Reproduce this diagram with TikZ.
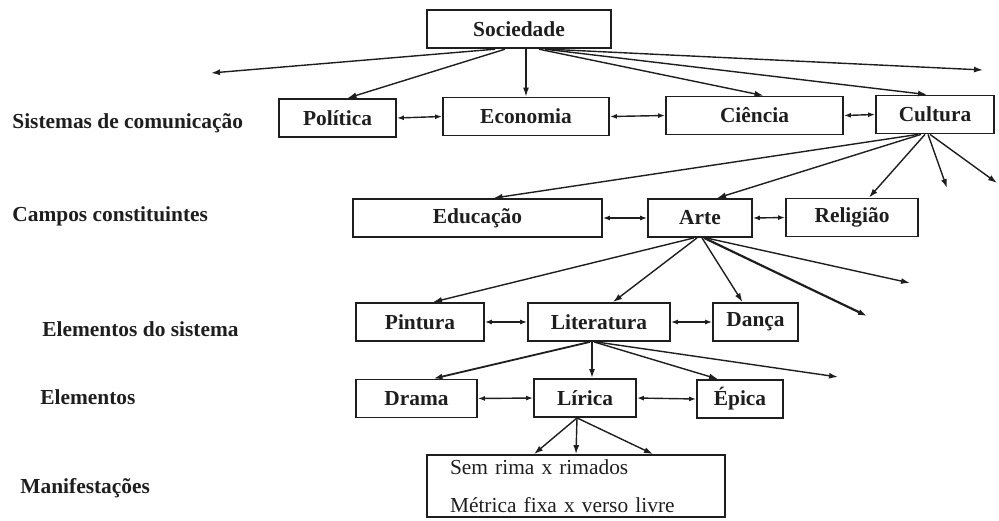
\documentclass[tikz,border=0pt]{standalone}
\usepackage{fontspec}
\setmainfont{Liberation Serif}
\usepackage{xcolor}
\usepackage{tikz}
\usetikzlibrary{arrows.meta,positioning}
\definecolor{inkdark}{HTML}{1E1E1E}

\begin{document}
\begin{tikzpicture}[
    x=0.5pt, y=-0.5pt,
    cbox/.style={rectangle, draw=inkdark, line width=0.9pt, text=inkdark, font=\fontsize{10.7}{12}\selectfont\bfseries, minimum height=19pt, inner sep=2pt},
    rowlabel/.style={anchor=base west, text=inkdark, font=\fontsize{10.7}{12}\selectfont\bfseries, inner sep=0pt},
    arr/.style={-{Latex[length=4.5pt,width=3pt]}, draw=inkdark, line width=0.7pt},
    dbl/.style={{Latex[length=3.5pt,width=2.5pt]}-{Latex[length=3.5pt,width=2.5pt]}, draw=inkdark, line width=0.7pt}
]
\useasboundingbox (0,0) rectangle (999,520);

\node[rowlabel] (l1) at (12,128) {Sistemas de comunicação};
\node[rowlabel] (l2) at (12,221) {Campos constituintes};
\node[rowlabel] (l3) at (42,336) {Elementos do sistema};
\node[rowlabel] (l4) at (40,404) {Elementos};
\node[rowlabel] (l5) at (20,493) {Manifestações};

\node[cbox, line width=1.2pt, minimum width=92pt] (Sociedade) at (519,29) {Sociedade};
\node[cbox, minimum width=58.5pt] (Politica) at (337.5,118) {Política};
\node[cbox, minimum width=83pt] (Economia) at (526,116.5) {Economia};
\node[cbox, minimum width=88.5pt] (Ciencia) at (754.5,115.5) {Ciência};
\node[cbox, minimum width=59pt] (Cultura) at (935,114.5) {Cultura};
\node[cbox, minimum width=124.5pt] (Educacao) at (477.5,218) {Educação};
\node[cbox, minimum width=52pt] (Arte) at (700,218) {Arte};
\node[cbox, minimum width=66pt] (Religiao) at (852,217.5) {Religião};
\node[cbox, minimum width=64pt] (Pintura) at (420,322) {Pintura};
\node[cbox, minimum width=71pt] (Literatura) at (599,322) {Literatura};
\node[cbox, minimum width=42.5pt] (Danca) at (755.5,322) {Dança};
\node[cbox, minimum width=60.5pt] (Drama) at (416.5,398.5) {Drama};
\node[cbox, minimum width=51pt] (Lirica) at (585,398) {Lírica};
\node[cbox, minimum width=43pt] (Epica) at (740,399) {Épica};
\node[cbox, font=\fontsize{10.7}{13}\selectfont, text width=126pt, inner xsep=11.5pt, align=left, minimum height=31pt] (Manif) at (576,486) {Sem rima x rimados\\[6pt]Métrica fixa x verso livre};

\coordinate (socL) at (211,73);
\coordinate (socR) at (983,70);
\coordinate (culA) at (947,188);
\coordinate (culB) at (997,183);
\coordinate (artA) at (910,283);
\coordinate (artB) at (867,316);
\coordinate (litA) at (838,377);

\draw[arr] ([xshift=-12pt]Sociedade.south) -- (socL);
\draw[arr] ([xshift=-7pt]Sociedade.south) -- ([xshift=5pt]Politica.north);
\draw[arr] (Economia.north |- Sociedade.south) -- (Economia.north);
\draw[arr] ([xshift=10pt]Sociedade.south) -- ([xshift=4.5pt]Ciencia.north);
\draw[arr] ([xshift=13pt]Sociedade.south) -- ([xshift=-4pt]Cultura.north);
\draw[arr] ([xshift=15pt]Sociedade.south) -- (socR);

\draw[arr] ([xshift=-8.5pt]Cultura.south) -- ([xshift=8pt]Educacao.north);
\draw[arr] ([xshift=-7pt]Cultura.south) -- ([xshift=8.5pt]Arte.north);
\draw[arr] ([xshift=-5pt]Cultura.south) -- ([xshift=8.5pt]Religiao.north);
\draw[arr] ([xshift=-3.5pt]Cultura.south) -- (culA);
\draw[arr] ([xshift=-2.5pt]Cultura.south) -- (culB);

\draw[arr] ([xshift=-3pt]Arte.south) -- ([xshift=6.5pt]Pintura.north);
\draw[arr] ([xshift=-1.5pt]Arte.south) -- ([xshift=7pt]Literatura.north);
\draw[arr] ([xshift=1pt]Arte.south) -- ([xshift=-6.5pt]Danca.north);
\draw[arr, line width=1.1pt] ([xshift=2pt]Arte.south) -- (artB);
\draw[arr] ([xshift=3pt]Arte.south) -- (artA);

\draw[arr, line width=0.9pt] ([xshift=-4.5pt]Literatura.south) -- ([xshift=8.5pt]Drama.north);
\draw[arr, line width=0.9pt] ([xshift=-3.5pt]Literatura.south) -- ([xshift=3.5pt]Lirica.north);
\draw[arr] ([xshift=-2.5pt]Literatura.south) -- ([xshift=-11pt]Epica.north);
\draw[arr] ([xshift=-1.5pt]Literatura.south) -- (litA);

\draw[arr] ([xshift=-4pt]Lirica.south) -- ([xshift=-21pt]Manif.north);
\draw[arr] ([xshift=-4pt]Lirica.south) -- (Manif.north);
\draw[arr] ([xshift=-4pt]Lirica.south) -- ([xshift=38.5pt]Manif.north);

\draw[dbl] (Politica.east) -- (Economia.west);
\draw[dbl] (Economia.east) -- (Ciencia.west);
\draw[dbl] (Ciencia.east) -- (Cultura.west);
\draw[dbl] (Educacao.east) -- (Arte.west);
\draw[dbl] (Arte.east) -- (Religiao.west);
\draw[dbl] (Pintura.east) -- (Literatura.west);
\draw[dbl] (Literatura.east) -- (Danca.west);
\draw[dbl] (Drama.east) -- (Lirica.west);
\draw[dbl] (Lirica.east) -- (Epica.west);
\end{tikzpicture}
\end{document}
